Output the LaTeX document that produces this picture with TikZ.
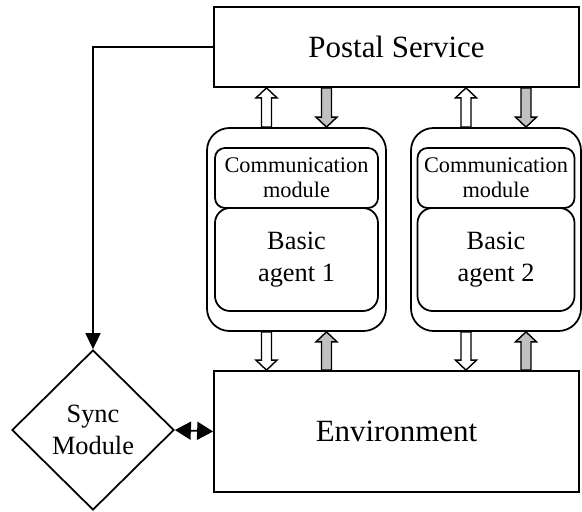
\documentclass[tikz,border=0pt]{standalone}
\usepackage{fontspec}
\setmainfont{Liberation Serif}
\usetikzlibrary{shapes.geometric,arrows.meta,calc}

\definecolor{arrowgray}{RGB}{192,192,192}

\tikzset{
    bigbox/.style={draw=black, line width=1pt, rectangle, inner sep=0pt, font=\fontsize{17.6}{21}\selectfont},
    agentbox/.style={draw=black, line width=1pt, rounded corners=0.45cm, minimum height=4.06cm},
    commbox/.style={draw=black, line width=1pt, rounded corners=0.2cm, minimum height=1.2cm, align=center, inner sep=0pt, font=\fontsize{12.7}{14.2}\selectfont},
    basicbox/.style={draw=black, line width=1pt, rounded corners=0.3cm, minimum height=2.06cm, align=center, inner sep=0pt, font=\fontsize{15}{18}\selectfont},
    syncbox/.style={draw=black, diamond, line width=1pt, minimum width=3.24cm, minimum height=3.2cm, inner sep=0pt, align=center, font=\fontsize{15}{18}\selectfont},
    blockarr/.style={draw=black, line width=0.8pt, line join=miter}
}

% #1 fill, #2 point giving x, #3 tail, #4 head
\newcommand{\blockarrow}[4]{%
    \draw[blockarr, fill=#1] let \p3=(#2), \p1=(#3), \p2=(#4), \n1={sign(\y2-\y1)} in
        ({\x3-0.1cm},\y1) -- ({\x3-0.1cm},{\y2-\n1*0.2cm}) -- ({\x3-0.21cm},{\y2-\n1*0.2cm})
        -- (\x3,\y2) -- ({\x3+0.21cm},{\y2-\n1*0.2cm}) -- ({\x3+0.1cm},{\y2-\n1*0.2cm})
        -- ({\x3+0.1cm},\y1) -- cycle;}

\begin{document}
\begin{tikzpicture}
        \useasboundingbox (0,0) rectangle (11.64,10.22);
        \node[bigbox, minimum width=7.3cm, minimum height=1.6cm] (post) at (7.93, 9.28) {Postal Service};
        \node[bigbox, minimum width=7.3cm, minimum height=2.42cm] (env) at (7.93, 1.59) {Environment};
        \node[agentbox, minimum width=3.58cm] (ag1) at (5.93, 5.63) {};
        \node[commbox, minimum width=3.26cm] (comm1) at (5.93, 6.66) {Communication\\module};
        \node[basicbox, minimum width=3.26cm] (basic1) at (5.93, 5.03) {Basic\\agent 1};
        \node[agentbox, minimum width=3.4cm] (ag2) at (9.92, 5.63) {};
        \node[commbox, minimum width=3.14cm] (comm2) at (9.92, 6.66) {Communication\\module};
        \node[basicbox, minimum width=3.14cm] (basic2) at (9.92, 5.03) {Basic\\agent 2};
        \node[syncbox] (sync) at (1.86, 1.62) {Sync\\Module};
        \draw[line width=1pt, -{Triangle[length=0.32cm, width=0.3cm]}] (post.west) -| (sync.north);
        \draw[line width=1pt, {Triangle[length=0.32cm, width=0.36cm]}-{Triangle[length=0.32cm, width=0.36cm]}] (sync.east) -- (env.west);
        \blockarrow{white}{[xshift=-0.6cm]ag1.north}{ag1.north}{post.south}
        \blockarrow{arrowgray}{[xshift=0.6cm]ag1.north}{post.south}{ag1.north}
        \blockarrow{white}{[xshift=-0.6cm]ag1.south}{ag1.south}{env.north}
        \blockarrow{arrowgray}{[xshift=0.6cm]ag1.south}{env.north}{ag1.south}
        \blockarrow{white}{[xshift=-0.6cm]ag2.north}{ag2.north}{post.south}
        \blockarrow{arrowgray}{[xshift=0.6cm]ag2.north}{post.south}{ag2.north}
        \blockarrow{white}{[xshift=-0.6cm]ag2.south}{ag2.south}{env.north}
        \blockarrow{arrowgray}{[xshift=0.6cm]ag2.south}{env.north}{ag2.south}
    \end{tikzpicture}
\end{document}
